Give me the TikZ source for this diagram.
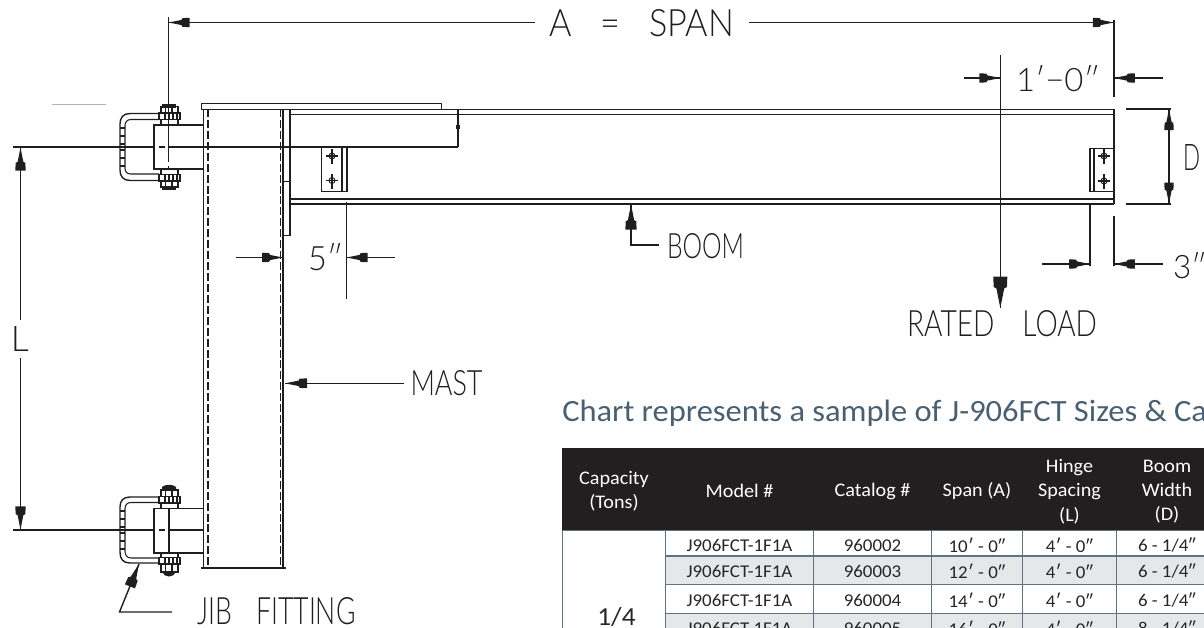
\documentclass[tikz,border=0pt]{standalone}
\usepackage{fontspec}
\usepackage{graphicx}
\setmainfont[FakeStretch=1.05]{Carlito}
\newfontfamily\cad{Lato Light}
\newfontfamily\prf[FakeStretch=1.05]{Lato}
\newcommand{\ftp}{{\prf ′}}
\usetikzlibrary{calc}
\definecolor{ink}{HTML}{1E1E1E}
\definecolor{headbg}{HTML}{231F20}
\definecolor{rowgrey}{HTML}{E6E7E8}
\definecolor{rule}{HTML}{5F7482}
\definecolor{titleblue}{HTML}{4A6070}
\newdimen\cadu \cadu=0.75pt
\newcommand{\cadtext}[3]{\resizebox{#1\cadu}{#2\cadu}{\cad #3}}
\tikzset{
  x=0.75pt,y=-0.75pt,
  ln/.style={draw=ink,line width=1.05pt},
  thn/.style={draw=ink,line width=0.8pt},
  hid/.style={draw=ink,line width=1.05pt,dash pattern=on 6pt off 2.2pt},
  lab/.style={inner sep=0pt,outer sep=0pt,anchor=north west,text=ink},
  cell/.style={inner sep=0pt,font=\fontsize{13.5pt}{16pt}\selectfont,text=black!85},
  hcell/.style={inner sep=0pt,font=\fontsize{14.4pt}{18.2pt}\selectfont,text=white,align=center},
  ah/.pic={\fill[ink] (0,0)--(-13,-2.6)--(-14,-4.4)--(-21,-4.7)--(-21,4.7)--(-14,4.4)--(-13,2.6)--cycle;},
  bolthole/.pic={\draw[ink,line width=.7pt] (0,0) circle (3);
     \draw[ink,line width=.9pt] (-6,0)--(6,0) (0,-7)--(0,8);},
  nutset/.pic={
     \draw[ln,fill=white] (0,0) rectangle (21,7);
     \draw[thn] (6,0)--(6,7) (10,0)--(10,7) (14,0)--(14,7) (18,0)--(18,7);}
}
\begin{document}
\begin{tikzpicture}
\useasboundingbox (0,0) rectangle (1204,628);
\clip (0,0) rectangle (1204,628);
% faint stroke
\draw[black!30,line width=.7pt] (52,104)--(106,104);

% ---------- table ----------
\node[inner sep=0pt,anchor=base west,text=titleblue,font=\fontsize{23.2pt}{26pt}\selectfont] (title) at (562,421.5) {Chart represents a sample of J-906FCT Sizes \& Capacities};
\fill[headbg] (562,448) rectangle (1204,530.5);
\fill[rowgrey] (665.4,556) rectangle (1204,584.3);
\fill[rowgrey] (665.4,613.3) rectangle (1204,642);
\draw[rule,line width=1.1pt] (562,530.5)--(1204,530.5);
\draw[rule,line width=1.1pt] (665.4,556)--(1204,556) (665.4,584.3)--(1204,584.3) (665.4,613.3)--(1204,613.3);
\draw[rule,line width=1.1pt] (665.4,530.5)--(665.4,640) (813.7,530.5)--(813.7,640) (931.5,530.5)--(931.5,640) (1022.7,530.5)--(1022.7,640) (1116.5,530.5)--(1116.5,640);
\draw[rule,line width=.6pt] (562,530.5)--(562,640);

\node[hcell] (h1) at (614,491.5) {Capacity\\(Tons)};
\node[hcell] (h2) at (739.5,491) {Model \#};
\node[hcell] (h3) at (872.5,491) {Catalog \#};
\node[hcell] (h4) at (977,491) {Span (A)};
\node[hcell] (h5) at (1069.5,491.5) {Hinge\\Spacing\\(L)};
\node[hcell] (h6) at (1167,491.5) {Boom\\Width\\(D)};

\node[cell] (a1) at (739.5,545) {J906FCT-1F1A};
\node[cell] (b1) at (872.5,545) {960002};
\node[cell] (c1) at (977,545) {10\ftp\ - 0″};
\node[cell] (d1) at (1069.5,545) {4\ftp\ - 0″};
\node[cell] (e1) at (1167,545) {6 - 1/4″};
\node[cell] (a2) at (739.5,571.5) {J906FCT-1F1A};
\node[cell] (b2) at (872.5,571.5) {960003};
\node[cell] (c2) at (977,571.5) {12\ftp\ - 0″};
\node[cell] (d2) at (1069.5,571.5) {4\ftp\ - 0″};
\node[cell] (e2) at (1167,571.5) {6 - 1/4″};
\node[cell] (a3) at (739.5,600.5) {J906FCT-1F1A};
\node[cell] (b3) at (872.5,600.5) {960004};
\node[cell] (c3) at (977,600.5) {14\ftp\ - 0″};
\node[cell] (d3) at (1069.5,600.5) {4\ftp\ - 0″};
\node[cell] (e3) at (1167,600.5) {6 - 1/4″};
\node[cell] (a4) at (739.5,628) {J906FCT-1F1A};
\node[cell] (b4) at (872.5,628) {960005};
\node[cell] (c4) at (977,628) {16\ftp\ - 0″};
\node[cell] (d4) at (1069.5,628) {4\ftp\ - 0″};
\node[cell] (e4) at (1167,628) {8 - 1/4″};
\node[inner sep=0pt,font=\fontsize{19.5pt}{22pt}\selectfont,text=black!85] (cap) at (616.5,617) {1/4};

% ---------- mast ----------
\draw[ln] (203.5,109)--(203.5,568);
\draw[ln] (283,109)--(283,568);
\draw[hid] (208,109)--(208,568);
\draw[hid] (280.5,109)--(280.5,568);
\draw[draw=ink,line width=1.5pt] (201,568)--(285.5,568);
% top plate
\draw[ln] (201.5,103.5) rectangle (441.5,109.3);
% end plate
\draw[ln] (290,109.3)--(290,235.5)--(283,235.5);
\draw[thn] (284,181.5)--(290,181.5);
% boom
\draw[ln] (203.5,109.3)--(1113.8,109.3);
\draw[ln] (290,114.3)--(1113.8,114.3);
\draw[ln] (290,199)--(1113.8,199);
\draw[ln] (290,203.8)--(1113.8,203.8);
\draw[ln] (1113.8,109.3)--(1113.8,203.8);
% boom joint
\draw[ln] (458,109.3)--(458,147);
\fill[ink] (456,125) rectangle (460,129);
% centre line top
\draw[ln] (13,147)--(154,147) (169,147)--(458,147);
% brackets
\draw[ln] (321.5,147)--(321.5,191.5)--(347,191.5)--(347,147);
\draw[ln] (342,147)--(342,191.5);
\pic at (332,156) {bolthole};
\pic at (332,180.5) {bolthole};
\draw[ln] (1090,148.7) rectangle (1113.8,191.7);
\draw[ln] (1094,148.7)--(1094,191.7);
\pic at (1104,156) {bolthole};
\pic at (1104,181) {bolthole};

% ---------- top hinge ----------
\draw[ln] (203.5,124.8)--(154,124.8)--(154,169)--(203.5,169);
\draw[ln] (168.5,166)--(168.5,169);
\draw[draw=ink,line width=1.2pt] (158.5,147)--(164.5,147);
\draw[ln,fill=white] (161,119.5) rectangle (178,124.8);
\pic at (159,112.5) {nutset};
\draw[ln,fill=white] (161,106.5) rectangle (178,113);
\draw[thn] (165.5,106.5)--(165.5,113) (172,106.5)--(172,113);
\fill[ink] (162,103.5) rectangle (176,107.5);
\draw[ln,fill=white] (161,169) rectangle (178,175);
\pic at (159,174.5) {nutset};
\draw[ln,fill=white] (161,181) rectangle (178,187);
\draw[thn] (165.5,181)--(165.5,187) (172,181)--(172,187);
\fill[ink] (162,186) rectangle (176,190);
% U bolt top
\draw[ln] (159,113.5)--(130,113.5) .. controls (123,113.5) and (120,118) .. (120,124) -- (120,170) .. controls (120,176) and (123,180.5) .. (130,180.5) -- (159,180.5);
\draw[thn] (159,119.5)--(131,119.5) .. controls (127,119.5) and (125,122) .. (125,126) -- (125,168) .. controls (125,172) and (127,174) .. (131,174) -- (159,174);
\foreach \yy in {128,136,144,150,158,166}{\draw[thn] (120,\yy)--(125,\yy);}

% ---------- bottom hinge ----------
\draw[ln] (154,508.5) rectangle (169,553);
\draw[ln] (169,508.5)--(203.5,508.5) (169,553)--(203.5,553);
\draw[ln] (13,530)--(154,530) (169,530)--(203.5,530);
\draw[draw=ink,line width=1.2pt] (158.5,530)--(164.5,530);
\fill[ink] (162,487) .. controls (165,484) and (173,484) .. (176,487) -- (176,491) -- (162,491) -- cycle;
\draw[ln,fill=white] (161,490) rectangle (178,497);
\draw[thn] (165.5,490)--(165.5,497) (172,490)--(172,497);
\pic at (159,496.5) {nutset};
\draw[ln,fill=white] (161,503) rectangle (178,508.5);
\draw[ln,fill=white] (161,553) rectangle (178,558);
\pic at (159,557.5) {nutset};
\draw[ln,fill=white] (161,564) rectangle (178,572);
\draw[thn] (165.5,564)--(165.5,572) (172,564)--(172,572);
\fill[ink] (162,572) .. controls (165,578) and (173,578) .. (176,572) -- cycle;
% U bolt bottom
\draw[ln] (159,497)--(130,497) .. controls (123,497) and (120,501) .. (120,507) -- (120,552) .. controls (120,559) and (123,563) .. (130,563) -- (159,563);
\draw[thn] (159,502.5)--(131,502.5) .. controls (127,502.5) and (125,505) .. (125,509) -- (125,551) .. controls (125,555) and (127,558) .. (131,558) -- (159,558);
\foreach \yy in {511,519,527,533,541,549}{\draw[thn] (120,\yy)--(125,\yy);}

% ---------- dimensions ----------
% span
\coordinate (sl) at (168.5,22.5); \coordinate (sr) at (1113.8,22.5);
\node[lab] (span) at (549,9) {\cadtext{185}{27}{A\hspace{.85em}=\hspace{.85em}SPAN}};
\draw[ln] (168.5,17)--(168.5,162);
\draw[ln] (1113.8,20)--(1113.8,97);
\draw[ln] (sl)--(535,22.5) (749,22.5)--(sr);
\pic[rotate=180] at (sl) {ah};
\pic at (sr) {ah};
% 1'-0"
\coordinate (r1) at (1000.3,78); \coordinate (r2) at (1113.8,78);
\node[lab] (onefoot) at (1016,65.5) {\cadtext{84}{26}{1′−0″}};
\draw[ln] (964,78)--(r1) (1163,78)--(r2);
\pic at (r1) {ah};
\pic[rotate=180] at (r2) {ah};
% rated load
\coordinate (rl) at (1000.3,308);
\draw[ln] (1000.3,55)--(rl);
\pic[rotate=-90,scale=1.5] at (rl) {ah};
\node[lab] (rated) at (907,310) {\cadtext{190}{26}{RATED\hspace{1em}LOAD}};
% D
\coordinate (dt) at (1169,109); \coordinate (db) at (1169,203.6);
\draw[ln] (1126,108.8)--(1171,108.8) (1126,203.8)--(1171,203.8);
\draw[ln] (dt)--(db);
\pic[rotate=90] at (dt) {ah};
\pic[rotate=-90] at (db) {ah};
\node[lab] (dlab) at (1183,144) {\cadtext{17}{26}{D}};
% 3"
\coordinate (t1) at (1090,264); \coordinate (t2) at (1113.8,264);
\draw[ln] (1090,203.8)--(1090,266);
\draw[ln] (1113.8,216)--(1113.8,266);
\draw[ln] (1042,264)--(t1) (1163,264)--(t2);
\pic at (t1) {ah};
\pic[rotate=180] at (t2) {ah};
\node[lab] (three) at (1173,252) {\cadtext{34}{26}{3″}};
% 5"
\coordinate (f1) at (283,257.5); \coordinate (f2) at (346.7,257.5);
\draw[ln] (346.7,202)--(346.7,299);
\draw[ln] (236,257.5)--(f1) (395,257.5)--(f2);
\pic at (f1) {ah};
\pic[rotate=180] at (f2) {ah};
\node[lab] (five) at (308,243.5) {\cadtext{35}{27}{5″}};
% boom label
\coordinate (bt) at (631,204.5);
\draw[ln] (659,245)--(631,245)--(bt);
\pic[rotate=90,scale=1.2] at (bt) {ah};
\node[lab] (boomlab) at (667,233) {\cadtext{77}{25}{BOOM}};
% mast label
\coordinate (mt) at (285,383.3);
\draw[ln] (404,383.3)--(mt);
\pic[rotate=180,scale=1.05] at (mt) {ah};
\node[lab] (mastlab) at (410.5,370) {\cadtext{72}{25}{MAST}};
% L
\coordinate (lt) at (20.5,147.5); \coordinate (lb) at (20.5,529.5);
\draw[ln] (lt)--(20.5,320) (20.5,357.5)--(lb);
\pic[rotate=90,scale=1.1] at (lt) {ah};
\pic[rotate=-90,scale=1.1] at (lb) {ah};
\node[lab] (llab) at (11,326) {\cadtext{18}{25}{L}};
% jib
\coordinate (jt) at (139,564);
\draw[ln] (172,612)--(119.5,612)--(jt);
\pic[rotate=68,scale=1.15] at (jt) {ah};
\node[lab] (jib) at (197.5,597) {\cadtext{158}{27}{JIB\hspace{.9em}FITTING}};
\end{tikzpicture}
\end{document}
